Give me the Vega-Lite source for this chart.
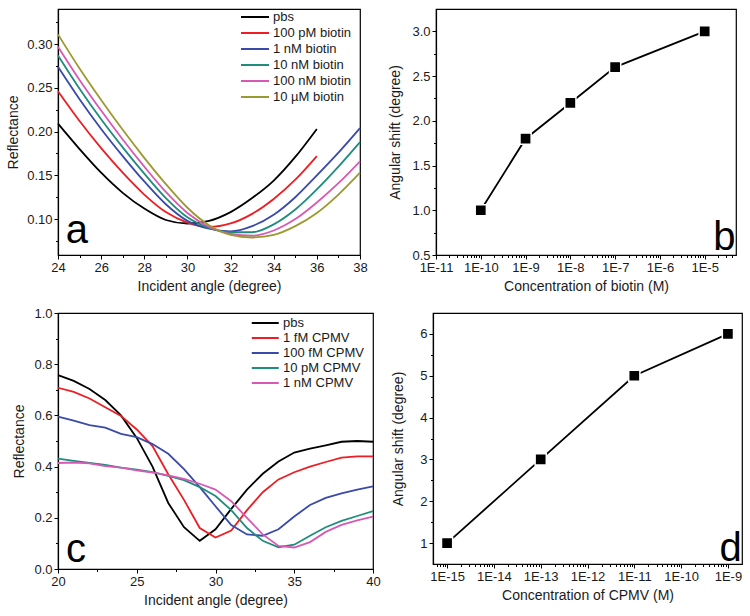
{
  "$schema": "https://vega.github.io/schema/vega-lite/v6.json",
  "background": "white",
  "padding": {"left": 5, "top": 8, "right": 5, "bottom": 5},
  "spacing": 12,
  "resolve": {"scale": {"color": "independent"}, "legend": {"color": "independent"}},
  "datasets": {
    "biotinCurves": [
      {"angle": 24, "reflectance": 0.209, "sample": "pbs"},
      {"angle": 25, "reflectance": 0.180, "sample": "pbs"},
      {"angle": 26, "reflectance": 0.153, "sample": "pbs"},
      {"angle": 27, "reflectance": 0.130, "sample": "pbs"},
      {"angle": 28, "reflectance": 0.112, "sample": "pbs"},
      {"angle": 29, "reflectance": 0.099, "sample": "pbs"},
      {"angle": 30, "reflectance": 0.095, "sample": "pbs"},
      {"angle": 31, "reflectance": 0.098, "sample": "pbs"},
      {"angle": 32, "reflectance": 0.108, "sample": "pbs"},
      {"angle": 33, "reflectance": 0.124, "sample": "pbs"},
      {"angle": 34, "reflectance": 0.144, "sample": "pbs"},
      {"angle": 35, "reflectance": 0.171, "sample": "pbs"},
      {"angle": 36, "reflectance": 0.203, "sample": "pbs"},
      {"angle": 24, "reflectance": 0.246, "sample": "100 pM biotin"},
      {"angle": 25, "reflectance": 0.212, "sample": "100 pM biotin"},
      {"angle": 26, "reflectance": 0.181, "sample": "100 pM biotin"},
      {"angle": 27, "reflectance": 0.153, "sample": "100 pM biotin"},
      {"angle": 28, "reflectance": 0.128, "sample": "100 pM biotin"},
      {"angle": 29, "reflectance": 0.108, "sample": "100 pM biotin"},
      {"angle": 30, "reflectance": 0.096, "sample": "100 pM biotin"},
      {"angle": 31, "reflectance": 0.091, "sample": "100 pM biotin"},
      {"angle": 32, "reflectance": 0.095, "sample": "100 pM biotin"},
      {"angle": 33, "reflectance": 0.106, "sample": "100 pM biotin"},
      {"angle": 34, "reflectance": 0.123, "sample": "100 pM biotin"},
      {"angle": 35, "reflectance": 0.145, "sample": "100 pM biotin"},
      {"angle": 36, "reflectance": 0.172, "sample": "100 pM biotin"},
      {"angle": 24, "reflectance": 0.274, "sample": "1 nM biotin"},
      {"angle": 25, "reflectance": 0.237, "sample": "1 nM biotin"},
      {"angle": 26, "reflectance": 0.203, "sample": "1 nM biotin"},
      {"angle": 27, "reflectance": 0.172, "sample": "1 nM biotin"},
      {"angle": 28, "reflectance": 0.143, "sample": "1 nM biotin"},
      {"angle": 29, "reflectance": 0.117, "sample": "1 nM biotin"},
      {"angle": 30, "reflectance": 0.098, "sample": "1 nM biotin"},
      {"angle": 31, "reflectance": 0.089, "sample": "1 nM biotin"},
      {"angle": 32, "reflectance": 0.086, "sample": "1 nM biotin"},
      {"angle": 33, "reflectance": 0.092, "sample": "1 nM biotin"},
      {"angle": 34, "reflectance": 0.105, "sample": "1 nM biotin"},
      {"angle": 35, "reflectance": 0.125, "sample": "1 nM biotin"},
      {"angle": 36, "reflectance": 0.150, "sample": "1 nM biotin"},
      {"angle": 37, "reflectance": 0.176, "sample": "1 nM biotin"},
      {"angle": 38, "reflectance": 0.204, "sample": "1 nM biotin"},
      {"angle": 24, "reflectance": 0.287, "sample": "10 nM biotin"},
      {"angle": 25, "reflectance": 0.249, "sample": "10 nM biotin"},
      {"angle": 26, "reflectance": 0.214, "sample": "10 nM biotin"},
      {"angle": 27, "reflectance": 0.182, "sample": "10 nM biotin"},
      {"angle": 28, "reflectance": 0.152, "sample": "10 nM biotin"},
      {"angle": 29, "reflectance": 0.124, "sample": "10 nM biotin"},
      {"angle": 30, "reflectance": 0.102, "sample": "10 nM biotin"},
      {"angle": 31, "reflectance": 0.090, "sample": "10 nM biotin"},
      {"angle": 32, "reflectance": 0.085, "sample": "10 nM biotin"},
      {"angle": 33, "reflectance": 0.085, "sample": "10 nM biotin"},
      {"angle": 34, "reflectance": 0.094, "sample": "10 nM biotin"},
      {"angle": 35, "reflectance": 0.111, "sample": "10 nM biotin"},
      {"angle": 36, "reflectance": 0.134, "sample": "10 nM biotin"},
      {"angle": 37, "reflectance": 0.160, "sample": "10 nM biotin"},
      {"angle": 38, "reflectance": 0.188, "sample": "10 nM biotin"},
      {"angle": 24, "reflectance": 0.297, "sample": "100 nM biotin"},
      {"angle": 25, "reflectance": 0.259, "sample": "100 nM biotin"},
      {"angle": 26, "reflectance": 0.224, "sample": "100 nM biotin"},
      {"angle": 27, "reflectance": 0.191, "sample": "100 nM biotin"},
      {"angle": 28, "reflectance": 0.160, "sample": "100 nM biotin"},
      {"angle": 29, "reflectance": 0.131, "sample": "100 nM biotin"},
      {"angle": 30, "reflectance": 0.107, "sample": "100 nM biotin"},
      {"angle": 31, "reflectance": 0.091, "sample": "100 nM biotin"},
      {"angle": 32, "reflectance": 0.083, "sample": "100 nM biotin"},
      {"angle": 33, "reflectance": 0.081, "sample": "100 nM biotin"},
      {"angle": 34, "reflectance": 0.087, "sample": "100 nM biotin"},
      {"angle": 35, "reflectance": 0.100, "sample": "100 nM biotin"},
      {"angle": 36, "reflectance": 0.119, "sample": "100 nM biotin"},
      {"angle": 37, "reflectance": 0.141, "sample": "100 nM biotin"},
      {"angle": 38, "reflectance": 0.166, "sample": "100 nM biotin"},
      {"angle": 24, "reflectance": 0.311, "sample": "10 µM biotin"},
      {"angle": 25, "reflectance": 0.272, "sample": "10 µM biotin"},
      {"angle": 26, "reflectance": 0.236, "sample": "10 µM biotin"},
      {"angle": 27, "reflectance": 0.202, "sample": "10 µM biotin"},
      {"angle": 28, "reflectance": 0.170, "sample": "10 µM biotin"},
      {"angle": 29, "reflectance": 0.140, "sample": "10 µM biotin"},
      {"angle": 30, "reflectance": 0.113, "sample": "10 µM biotin"},
      {"angle": 31, "reflectance": 0.093, "sample": "10 µM biotin"},
      {"angle": 32, "reflectance": 0.082, "sample": "10 µM biotin"},
      {"angle": 33, "reflectance": 0.079, "sample": "10 µM biotin"},
      {"angle": 34, "reflectance": 0.082, "sample": "10 µM biotin"},
      {"angle": 35, "reflectance": 0.092, "sample": "10 µM biotin"},
      {"angle": 36, "reflectance": 0.107, "sample": "10 µM biotin"},
      {"angle": 37, "reflectance": 0.128, "sample": "10 µM biotin"},
      {"angle": 38, "reflectance": 0.153, "sample": "10 µM biotin"}
    ],
    "biotinShift": [
      {"conc": 1e-10, "shift": 1.0},
      {"conc": 1e-9, "shift": 1.8},
      {"conc": 1e-8, "shift": 2.2},
      {"conc": 1e-7, "shift": 2.6},
      {"conc": 1e-5, "shift": 3.0}
    ],
    "cpmvCurves": [
      {"angle": 20, "reflectance": 0.757, "sample": "pbs"},
      {"angle": 21, "reflectance": 0.735, "sample": "pbs"},
      {"angle": 22, "reflectance": 0.703, "sample": "pbs"},
      {"angle": 23, "reflectance": 0.660, "sample": "pbs"},
      {"angle": 24, "reflectance": 0.600, "sample": "pbs"},
      {"angle": 25, "reflectance": 0.512, "sample": "pbs"},
      {"angle": 26, "reflectance": 0.400, "sample": "pbs"},
      {"angle": 27, "reflectance": 0.258, "sample": "pbs"},
      {"angle": 28, "reflectance": 0.163, "sample": "pbs"},
      {"angle": 29, "reflectance": 0.110, "sample": "pbs"},
      {"angle": 30, "reflectance": 0.155, "sample": "pbs"},
      {"angle": 31, "reflectance": 0.235, "sample": "pbs"},
      {"angle": 32, "reflectance": 0.310, "sample": "pbs"},
      {"angle": 33, "reflectance": 0.372, "sample": "pbs"},
      {"angle": 34, "reflectance": 0.420, "sample": "pbs"},
      {"angle": 35, "reflectance": 0.455, "sample": "pbs"},
      {"angle": 36, "reflectance": 0.470, "sample": "pbs"},
      {"angle": 37, "reflectance": 0.483, "sample": "pbs"},
      {"angle": 38, "reflectance": 0.497, "sample": "pbs"},
      {"angle": 39, "reflectance": 0.500, "sample": "pbs"},
      {"angle": 40, "reflectance": 0.497, "sample": "pbs"},
      {"angle": 20, "reflectance": 0.708, "sample": "1 fM CPMV"},
      {"angle": 21, "reflectance": 0.692, "sample": "1 fM CPMV"},
      {"angle": 22, "reflectance": 0.666, "sample": "1 fM CPMV"},
      {"angle": 23, "reflectance": 0.632, "sample": "1 fM CPMV"},
      {"angle": 24, "reflectance": 0.598, "sample": "1 fM CPMV"},
      {"angle": 25, "reflectance": 0.545, "sample": "1 fM CPMV"},
      {"angle": 26, "reflectance": 0.480, "sample": "1 fM CPMV"},
      {"angle": 27, "reflectance": 0.370, "sample": "1 fM CPMV"},
      {"angle": 28, "reflectance": 0.270, "sample": "1 fM CPMV"},
      {"angle": 29, "reflectance": 0.160, "sample": "1 fM CPMV"},
      {"angle": 30, "reflectance": 0.123, "sample": "1 fM CPMV"},
      {"angle": 31, "reflectance": 0.150, "sample": "1 fM CPMV"},
      {"angle": 32, "reflectance": 0.230, "sample": "1 fM CPMV"},
      {"angle": 33, "reflectance": 0.300, "sample": "1 fM CPMV"},
      {"angle": 34, "reflectance": 0.350, "sample": "1 fM CPMV"},
      {"angle": 35, "reflectance": 0.378, "sample": "1 fM CPMV"},
      {"angle": 36, "reflectance": 0.400, "sample": "1 fM CPMV"},
      {"angle": 37, "reflectance": 0.418, "sample": "1 fM CPMV"},
      {"angle": 38, "reflectance": 0.435, "sample": "1 fM CPMV"},
      {"angle": 39, "reflectance": 0.440, "sample": "1 fM CPMV"},
      {"angle": 40, "reflectance": 0.440, "sample": "1 fM CPMV"},
      {"angle": 20, "reflectance": 0.595, "sample": "100 fM  CPMV"},
      {"angle": 21, "reflectance": 0.580, "sample": "100 fM  CPMV"},
      {"angle": 22, "reflectance": 0.562, "sample": "100 fM  CPMV"},
      {"angle": 23, "reflectance": 0.552, "sample": "100 fM  CPMV"},
      {"angle": 24, "reflectance": 0.528, "sample": "100 fM  CPMV"},
      {"angle": 25, "reflectance": 0.515, "sample": "100 fM  CPMV"},
      {"angle": 26, "reflectance": 0.488, "sample": "100 fM  CPMV"},
      {"angle": 27, "reflectance": 0.450, "sample": "100 fM  CPMV"},
      {"angle": 28, "reflectance": 0.390, "sample": "100 fM  CPMV"},
      {"angle": 29, "reflectance": 0.320, "sample": "100 fM  CPMV"},
      {"angle": 30, "reflectance": 0.245, "sample": "100 fM  CPMV"},
      {"angle": 31, "reflectance": 0.172, "sample": "100 fM  CPMV"},
      {"angle": 32, "reflectance": 0.135, "sample": "100 fM  CPMV"},
      {"angle": 33, "reflectance": 0.130, "sample": "100 fM  CPMV"},
      {"angle": 34, "reflectance": 0.155, "sample": "100 fM  CPMV"},
      {"angle": 35, "reflectance": 0.205, "sample": "100 fM  CPMV"},
      {"angle": 36, "reflectance": 0.250, "sample": "100 fM  CPMV"},
      {"angle": 37, "reflectance": 0.278, "sample": "100 fM  CPMV"},
      {"angle": 38, "reflectance": 0.295, "sample": "100 fM  CPMV"},
      {"angle": 39, "reflectance": 0.310, "sample": "100 fM  CPMV"},
      {"angle": 40, "reflectance": 0.323, "sample": "100 fM  CPMV"},
      {"angle": 20, "reflectance": 0.431, "sample": "10 pM CPMV"},
      {"angle": 21, "reflectance": 0.422, "sample": "10 pM CPMV"},
      {"angle": 22, "reflectance": 0.414, "sample": "10 pM CPMV"},
      {"angle": 23, "reflectance": 0.407, "sample": "10 pM CPMV"},
      {"angle": 24, "reflectance": 0.396, "sample": "10 pM CPMV"},
      {"angle": 25, "reflectance": 0.388, "sample": "10 pM CPMV"},
      {"angle": 26, "reflectance": 0.378, "sample": "10 pM CPMV"},
      {"angle": 27, "reflectance": 0.364, "sample": "10 pM CPMV"},
      {"angle": 28, "reflectance": 0.347, "sample": "10 pM CPMV"},
      {"angle": 29, "reflectance": 0.320, "sample": "10 pM CPMV"},
      {"angle": 30, "reflectance": 0.285, "sample": "10 pM CPMV"},
      {"angle": 31, "reflectance": 0.230, "sample": "10 pM CPMV"},
      {"angle": 32, "reflectance": 0.160, "sample": "10 pM CPMV"},
      {"angle": 33, "reflectance": 0.110, "sample": "10 pM CPMV"},
      {"angle": 34, "reflectance": 0.085, "sample": "10 pM CPMV"},
      {"angle": 35, "reflectance": 0.095, "sample": "10 pM CPMV"},
      {"angle": 36, "reflectance": 0.130, "sample": "10 pM CPMV"},
      {"angle": 37, "reflectance": 0.163, "sample": "10 pM CPMV"},
      {"angle": 38, "reflectance": 0.188, "sample": "10 pM CPMV"},
      {"angle": 39, "reflectance": 0.207, "sample": "10 pM CPMV"},
      {"angle": 40, "reflectance": 0.226, "sample": "10 pM CPMV"},
      {"angle": 20, "reflectance": 0.414, "sample": "1 nM CPMV"},
      {"angle": 21, "reflectance": 0.416, "sample": "1 nM CPMV"},
      {"angle": 22, "reflectance": 0.413, "sample": "1 nM CPMV"},
      {"angle": 23, "reflectance": 0.402, "sample": "1 nM CPMV"},
      {"angle": 24, "reflectance": 0.396, "sample": "1 nM CPMV"},
      {"angle": 25, "reflectance": 0.385, "sample": "1 nM CPMV"},
      {"angle": 26, "reflectance": 0.377, "sample": "1 nM CPMV"},
      {"angle": 27, "reflectance": 0.366, "sample": "1 nM CPMV"},
      {"angle": 28, "reflectance": 0.352, "sample": "1 nM CPMV"},
      {"angle": 29, "reflectance": 0.333, "sample": "1 nM CPMV"},
      {"angle": 30, "reflectance": 0.310, "sample": "1 nM CPMV"},
      {"angle": 31, "reflectance": 0.265, "sample": "1 nM CPMV"},
      {"angle": 32, "reflectance": 0.200, "sample": "1 nM CPMV"},
      {"angle": 33, "reflectance": 0.135, "sample": "1 nM CPMV"},
      {"angle": 34, "reflectance": 0.090, "sample": "1 nM CPMV"},
      {"angle": 35, "reflectance": 0.084, "sample": "1 nM CPMV"},
      {"angle": 36, "reflectance": 0.105, "sample": "1 nM CPMV"},
      {"angle": 37, "reflectance": 0.145, "sample": "1 nM CPMV"},
      {"angle": 38, "reflectance": 0.172, "sample": "1 nM CPMV"},
      {"angle": 39, "reflectance": 0.190, "sample": "1 nM CPMV"},
      {"angle": 40, "reflectance": 0.205, "sample": "1 nM CPMV"}
    ],
    "cpmvShift": [
      {"conc": 1e-15, "shift": 1},
      {"conc": 1e-13, "shift": 3},
      {"conc": 1e-11, "shift": 5},
      {"conc": 1e-9, "shift": 6}
    ]
  },
  "vconcat": [
    {
      "spacing": 19,
      "hconcat": [
        {
          "width": 302,
          "height": 246,
          "layer": [
            {
              "data": {"name": "biotinCurves"},
              "mark": {"type": "line", "strokeWidth": 1.8, "interpolate": "monotone"},
              "encoding": {
                "x": {"field": "angle", "type": "quantitative",
                  "scale": {"domain": [24, 38], "nice": false, "zero": false},
                  "axis": {"title": "Incident angle (degree)", "values": [24, 26, 28, 30, 32, 34, 36, 38], "titlePadding": 5}},
                "y": {"field": "reflectance", "type": "quantitative",
                  "scale": {"domain": [0.059, 0.34], "nice": false, "zero": false},
                  "axis": {"title": "Reflectance", "values": [0.1, 0.15, 0.2, 0.25, 0.3], "format": ".2f", "titlePadding": 6.5}},
                "color": {"field": "sample", "type": "nominal",
                  "scale": {"domain": ["pbs", "100 pM biotin", "1 nM biotin", "10 nM biotin", "100 nM biotin", "10 µM biotin"],
                    "range": ["#000000", "#ee1d23", "#3a4aa8", "#1f8c7c", "#d65ab4", "#9a9a30"]},
                  "legend": {"title": null, "orient": "none", "legendX": 196, "legendY": 0, "symbolType": "M-3,0H1", "symbolSize": 196, "symbolStrokeWidth": 2, "rowPadding": 1, "labelOffset": 3, "padding": 0}}
              }
            },
            {
              "data": {"values": [{"label": "a"}]},
              "mark": {"type": "text", "fontSize": 40, "align": "left", "baseline": "alphabetic", "color": "black"},
              "encoding": {
                "text": {"field": "label"},
                "x": {"datum": 24.36, "type": "quantitative",
                  "axis": {"orient": "bottom", "values": [25, 27, 29, 31, 33, 35, 37], "labels": false, "domain": false, "title": null, "tickSize": 2.5}},
                "y": {"datum": 0.073, "type": "quantitative",
                  "axis": {"orient": "left", "values": [0.075, 0.125, 0.175, 0.225, 0.275, 0.325], "labels": false, "domain": false, "title": null, "tickSize": 2.5}}
              }
            }
          ],
          "resolve": {"axis": {"x": "independent", "y": "independent"}}
        },
        {
          "width": 300,
          "height": 246,
          "layer": [
            {
              "data": {"name": "biotinShift"},
              "mark": {"type": "line", "color": "black", "strokeWidth": 1.8},
              "encoding": {
                "x": {"field": "conc", "type": "quantitative",
                  "scale": {"type": "log", "domain": [1e-11, 5e-5], "nice": false},
                  "axis": {"title": "Concentration of biotin (M)", "values": [1e-11, 1e-10, 1e-9, 1e-8, 1e-7, 1e-6, 1e-5], "labelExpr": "'1E-' + round(-log(datum.value)/LN10)", "titlePadding": 5}},
                "y": {"field": "shift", "type": "quantitative",
                  "scale": {"domain": [0.5, 3.25], "nice": false, "zero": false},
                  "axis": {"title": "Angular shift (degree)", "values": [0.5, 1, 1.5, 2, 2.5, 3], "format": ".1f", "titlePadding": 9.4}}
              }
            },
            {
              "data": {"name": "biotinShift"},
              "mark": {"type": "point", "shape": "square", "filled": true, "color": "black", "size": 125, "stroke": "white", "strokeWidth": 1.5, "opacity": 1},
              "encoding": {
                "x": {"field": "conc", "type": "quantitative", "axis": null},
                "y": {"field": "shift", "type": "quantitative", "axis": null}
              }
            },
            {
              "data": {"values": [{"label": "b"}]},
              "mark": {"type": "text", "fontSize": 40, "align": "left", "baseline": "alphabetic", "color": "black"},
              "encoding": {
                "text": {"field": "label"},
                "x": {"datum": 1.55e-5, "type": "quantitative",
                  "axis": {"orient": "bottom", "values": [2e-11, 3e-11, 4e-11, 5e-11, 6e-11, 7e-11, 8e-11, 9e-11, 2e-10, 3e-10, 4e-10, 5e-10, 6e-10, 7e-10, 8e-10, 9e-10, 2e-9, 3e-9, 4e-9, 5e-9, 6e-9, 7e-9, 8e-9, 9e-9, 2e-8, 3e-8, 4e-8, 5e-8, 6e-8, 7e-8, 8e-8, 9e-8, 2e-7, 3e-7, 4e-7, 5e-7, 6e-7, 7e-7, 8e-7, 9e-7, 2e-6, 3e-6, 4e-6, 5e-6, 6e-6, 7e-6, 8e-6, 9e-6, 2e-5, 3e-5, 4e-5], "labels": false, "domain": false, "title": null, "tickSize": 2.5}},
                "y": {"datum": 0.56, "type": "quantitative",
                  "axis": {"orient": "left", "values": [0.75, 1.25, 1.75, 2.25, 2.75], "labels": false, "domain": false, "title": null, "tickSize": 2.5}}
              }
            }
          ],
          "resolve": {"axis": {"x": "independent", "y": "independent"}}
        }
      ]
    },
    {
      "spacing": 10,
      "hconcat": [
        {
          "width": 315,
          "height": 256,
          "layer": [
            {
              "data": {"name": "cpmvCurves"},
              "mark": {"type": "line", "strokeWidth": 1.8},
              "encoding": {
                "x": {"field": "angle", "type": "quantitative",
                  "scale": {"domain": [20, 40], "nice": false, "zero": false},
                  "axis": {"title": "Incident angle (degree)", "values": [20, 25, 30, 35, 40], "titlePadding": 5}},
                "y": {"field": "reflectance", "type": "quantitative",
                  "scale": {"domain": [0, 1], "nice": false, "zero": false},
                  "axis": {"title": "Reflectance", "values": [0, 0.2, 0.4, 0.6, 0.8, 1.0], "format": ".1f", "titlePadding": 7.9}},
                "color": {"field": "sample", "type": "nominal",
                  "scale": {"domain": ["pbs", "1 fM CPMV", "100 fM  CPMV", "10 pM CPMV", "1 nM CPMV"],
                    "range": ["#000000", "#ee1d23", "#3a4aa8", "#1f8c7c", "#d65ab4"]},
                  "legend": {"title": null, "orient": "none", "legendX": 206, "legendY": 2, "symbolType": "M-3,0H1", "symbolSize": 182, "symbolStrokeWidth": 2, "rowPadding": 0, "labelOffset": 3, "padding": 0}}
              }
            },
            {
              "data": {"values": [{"label": "c"}]},
              "mark": {"type": "text", "fontSize": 40, "align": "left", "baseline": "alphabetic", "color": "black"},
              "encoding": {
                "text": {"field": "label"},
                "x": {"datum": 20.5, "type": "quantitative",
                  "axis": {"orient": "bottom", "values": [22.5, 27.5, 32.5, 37.5], "labels": false, "domain": false, "title": null, "tickSize": 2.5}},
                "y": {"datum": 0.026, "type": "quantitative",
                  "axis": {"orient": "left", "values": [0.1, 0.3, 0.5, 0.7, 0.9], "labels": false, "domain": false, "title": null, "tickSize": 2.5}}
              }
            }
          ],
          "resolve": {"axis": {"x": "independent", "y": "independent"}}
        },
        {
          "width": 309,
          "height": 251,
          "layer": [
            {
              "data": {"name": "cpmvShift"},
              "mark": {"type": "line", "color": "black", "strokeWidth": 1.8},
              "encoding": {
                "x": {"field": "conc", "type": "quantitative",
                  "scale": {"type": "log", "domain": [5e-16, 2e-9], "nice": false},
                  "axis": {"title": "Concentration of CPMV (M)", "values": [1e-15, 1e-14, 1e-13, 1e-12, 1e-11, 1e-10, 1e-9], "labelExpr": "'1E-' + round(-log(datum.value)/LN10)", "titlePadding": 5}},
                "y": {"field": "shift", "type": "quantitative",
                  "scale": {"domain": [0.5, 6.5], "nice": false, "zero": false},
                  "axis": {"title": "Angular shift (degree)", "values": [1, 2, 3, 4, 5, 6], "titlePadding": 13.8}}
              }
            },
            {
              "data": {"name": "cpmvShift"},
              "mark": {"type": "point", "shape": "square", "filled": true, "color": "black", "size": 125, "stroke": "white", "strokeWidth": 1.5, "opacity": 1},
              "encoding": {
                "x": {"field": "conc", "type": "quantitative", "axis": null},
                "y": {"field": "shift", "type": "quantitative", "axis": null}
              }
            },
            {
              "data": {"values": [{"label": "d"}]},
              "mark": {"type": "text", "fontSize": 40, "align": "left", "baseline": "alphabetic", "color": "black"},
              "encoding": {
                "text": {"field": "label"},
                "x": {"datum": 6.65e-10, "type": "quantitative",
                  "axis": {"orient": "bottom", "values": [6e-16, 7e-16, 8e-16, 9e-16, 2e-15, 3e-15, 4e-15, 5e-15, 6e-15, 7e-15, 8e-15, 9e-15, 2e-14, 3e-14, 4e-14, 5e-14, 6e-14, 7e-14, 8e-14, 9e-14, 2e-13, 3e-13, 4e-13, 5e-13, 6e-13, 7e-13, 8e-13, 9e-13, 2e-12, 3e-12, 4e-12, 5e-12, 6e-12, 7e-12, 8e-12, 9e-12, 2e-11, 3e-11, 4e-11, 5e-11, 6e-11, 7e-11, 8e-11, 9e-11, 2e-10, 3e-10, 4e-10, 5e-10, 6e-10, 7e-10, 8e-10, 9e-10], "labels": false, "domain": false, "title": null, "tickSize": 2.5}},
                "y": {"datum": 0.57, "type": "quantitative",
                  "axis": {"orient": "left", "values": [1.5, 2.5, 3.5, 4.5, 5.5], "labels": false, "domain": false, "title": null, "tickSize": 2.5}}
              }
            }
          ],
          "resolve": {"axis": {"x": "independent", "y": "independent"}}
        }
      ]
    }
  ],
  "config": {
    "font": "Liberation Sans",
    "view": {"stroke": "black", "strokeWidth": 1.2},
    "axis": {
      "labelFont": "Liberation Sans", "labelFontSize": 13, "labelColor": "#1a1a1a",
      "titleFont": "Liberation Sans", "titleFontSize": 14, "titleFontWeight": "normal", "titleColor": "#1a1a1a",
      "domainColor": "black", "domainWidth": 1.2, "tickColor": "black", "tickWidth": 1, "tickSize": 4,
      "labelPadding": 2, "grid": false, "labelFlush": false, "labelOverlap": false
    },
    "legend": {
      "labelFont": "Liberation Sans", "labelFontSize": 13, "labelColor": "#1a1a1a"
    }
  }
}
